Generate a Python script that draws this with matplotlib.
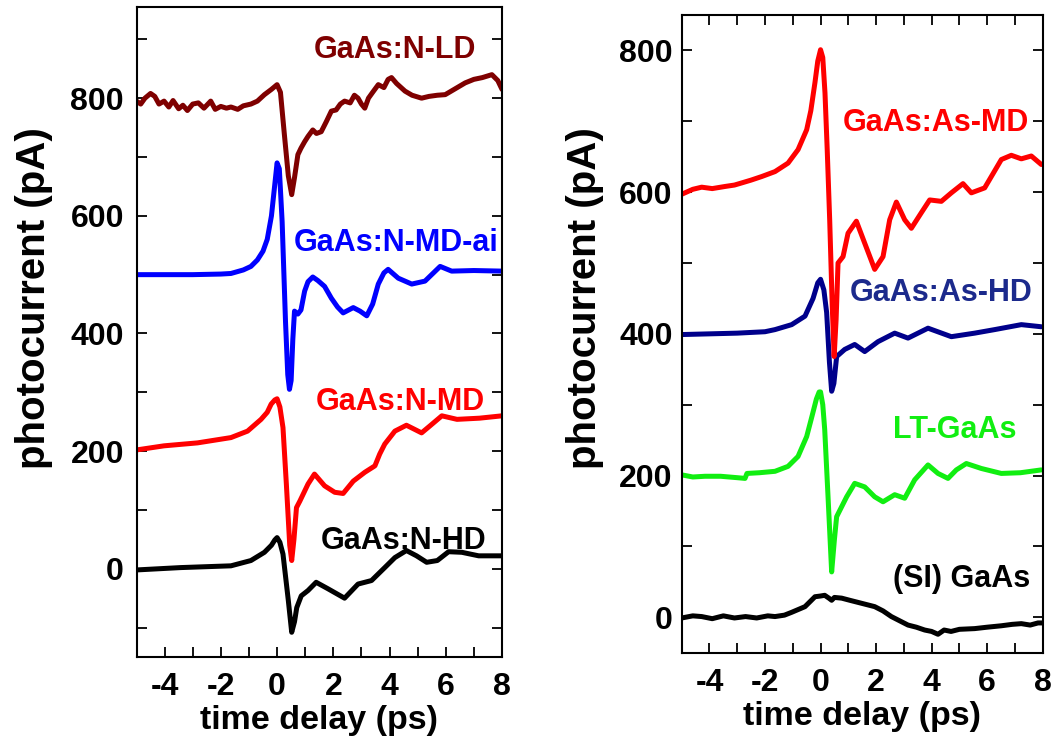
import matplotlib
matplotlib.use("Agg")
import matplotlib.pyplot as plt
from matplotlib.ticker import MultipleLocator

plt.rcParams['font.family'] = ['Liberation Sans', 'DejaVu Sans']
plt.rcParams['font.weight'] = 'bold'
plt.rcParams['axes.unicode_minus'] = False

# ---------------- Left panel data (GaAs:N samples) ----------------
ld_t = [-5.0, -4.85, -4.7, -4.5, -4.35, -4.2, -4.02, -3.85, -3.7, -3.5, -3.35, -3.19,
        -3.0, -2.8, -2.6, -2.36, -2.2, -2.0, -1.8, -1.64, -1.4, -1.2, -0.93, -0.7,
        -0.45, -0.2, 0.0, 0.12, 0.26, 0.4, 0.52, 0.62, 0.74, 0.85, 0.98, 1.1, 1.27,
        1.4, 1.57, 1.75, 1.93, 2.1, 2.25, 2.4, 2.6, 2.75, 2.88, 3.0, 3.12, 3.25, 3.4,
        3.6, 3.8, 3.95, 4.07, 4.25, 4.55, 4.8, 5.14, 5.4, 5.7, 5.98, 6.3, 6.69, 7.0,
        7.3, 7.64, 7.85, 8.0]
ld_y = [795, 790, 800, 808, 803, 790, 795, 785, 796, 782, 788, 779,
        790, 792, 783, 795, 781, 786, 783, 785, 781, 787, 790, 795,
        806, 815, 823, 810, 738, 668, 636, 665, 704, 715, 726, 735, 746,
        740, 743, 760, 778, 780, 790, 795, 792, 805, 800, 790, 783, 800, 810,
        823, 818, 832, 835, 825, 812, 805, 800, 803, 805, 806, 815, 826, 832,
        835, 840, 830, 815]

mdai_t = [-5.0, -4.0, -3.0, -2.0, -1.64, -1.2, -0.93, -0.7, -0.5, -0.35, -0.2, -0.1,
          0.0, 0.08, 0.18, 0.3, 0.38, 0.44, 0.5, 0.56, 0.62, 0.74, 0.85, 0.98, 1.1,
          1.27, 1.45, 1.69, 1.93, 2.15, 2.35, 2.71, 2.95, 3.19, 3.4, 3.6, 3.8, 3.95,
          4.31, 4.79, 5.26, 5.8, 6.21, 7.0, 8.0]
mdai_y = [500, 500, 500, 501, 502, 508, 514, 525, 540, 560, 600, 645,
          690, 680, 590, 420, 330, 305, 320, 390, 438, 433, 440, 472, 488,
          496, 490, 480, 460, 445, 435, 444, 438, 430, 450, 484, 503, 509,
          494, 484, 489, 514, 506, 507, 506]

md_t = [-5.0, -4.02, -2.83, -1.64, -1.05, -0.57, -0.35, -0.21, -0.08, 0.0, 0.1, 0.21,
        0.33, 0.45, 0.52, 0.6, 0.69, 0.81, 0.98, 1.1, 1.33, 1.69, 2.05, 2.35, 2.71,
        3.12, 3.48, 3.65, 3.83, 4.19, 4.6, 4.85, 5.14, 5.44, 5.86, 6.4, 7.2, 8.0]
md_y = [202, 209, 214, 223, 234, 254, 266, 280, 287, 289, 275, 240,
        144, 40, 14, 50, 104, 115, 132, 144, 161, 141, 130, 128, 149,
        164, 175, 195, 212, 234, 244, 238, 231, 243, 260, 254, 256, 260]

hd_t = [-5.0, -3.43, -1.64, -0.93, -0.45, -0.2, -0.08, 0.0, 0.1, 0.21, 0.4, 0.52, 0.62,
        0.7, 0.86, 1.1, 1.39, 1.81, 2.4, 2.88, 3.36, 3.83, 4.19, 4.6, 4.96, 5.32,
        5.7, 6.1, 6.57, 7.17, 8.0]
hd_y = [-2, 2, 5, 14, 28, 40, 49, 53, 45, 25, -54, -108, -90,
        -66, -46, -37, -23, -34, -50, -26, -20, 2, 19, 31, 22, 11,
        14, 29, 28, 22, 22]

# ---------------- Right panel data ----------------
asmd_t = [-5.0, -4.6, -4.28, -3.9, -3.44, -3.1, -2.84, -2.5, -2.12, -1.64, -1.17, -0.81,
          -0.5, -0.35, -0.2, -0.1, 0.0, 0.08, 0.16, 0.24, 0.33, 0.42, 0.49, 0.56,
          0.63, 0.81, 0.99, 1.29, 1.59, 1.95, 2.25, 2.49, 2.73, 3.03, 3.27, 3.63,
          3.93, 4.35, 4.71, 5.13, 5.43, 5.91, 6.15, 6.51, 6.87, 7.23, 7.59, 7.95]
asmd_y = [597, 604, 607, 605, 608, 610, 613, 617, 622, 629, 641, 660,
          688, 715, 755, 785, 801, 790, 740, 660, 560, 440, 368, 420,
          500, 509, 542, 559, 528, 491, 509, 561, 586, 561, 549, 571,
          589, 587, 599, 612, 599, 606, 622, 646, 652, 647, 651, 639]

ashd_t = [-5.0, -4.0, -3.0, -2.0, -1.64, -1.04, -0.56, -0.27, -0.1, 0.0, 0.12, 0.22,
          0.32, 0.4, 0.48, 0.58, 0.87, 1.23, 1.59, 2.07, 2.67, 3.15, 3.87, 4.71,
          5.55, 6.27, 7.23, 7.95]
ashd_y = [399, 400, 401, 403, 406, 413, 425, 450, 472, 477, 462, 430,
          360, 319, 330, 368, 378, 385, 375, 389, 401, 394, 408, 396,
          401, 406, 413, 410]

lt_t = [-5.0, -4.6, -4.16, -3.6, -3.0, -2.72, -2.65, -2.2, -1.64, -1.17, -0.81, -0.5,
        -0.3, -0.15, -0.05, 0.0, 0.08, 0.15, 0.27, 0.4, 0.5, 0.58, 0.76, 0.94, 1.23,
        1.59, 1.95, 2.25, 2.67, 3.03, 3.39, 3.87, 4.23, 4.59, 4.89, 5.25, 5.79,
        6.51, 7.2, 7.95]
lt_y = [201, 198, 199, 199, 197, 196, 203, 204, 206, 213, 227, 255,
        285, 308, 318, 318, 300, 265, 170, 64, 110, 142, 156, 170, 189,
        184, 170, 163, 173, 168, 194, 215, 203, 196, 208, 217, 210,
        203, 204, 208]

si_t = [-5.0, -4.6, -4.28, -3.9, -3.5, -3.1, -2.7, -2.3, -1.9, -1.64, -1.3, -1.04,
        -0.56, -0.2, 0.0, 0.15, 0.3, 0.4, 0.5, 0.76, 1.05, 1.35, 1.65, 1.95, 2.25,
        2.55, 2.85, 3.15, 3.45, 3.75, 4.0, 4.23, 4.45, 4.7, 5.0, 5.55, 6.0, 6.51,
        6.9, 7.23, 7.55, 7.83, 8.0]
si_y = [-1, 2, 1, -2, 2, -1, 1, -1, 2, 1, 3, 7,
        15, 29, 30, 31, 27, 24, 28, 27, 24, 21, 18, 15, 9,
        1, -5, -11, -14, -18, -20, -24, -18, -20, -17, -16, -14, -12,
        -10, -9, -11, -8, -8]

left_series = [
    (ld_t, ld_y, '#7f0000', 'GaAs:N-LD', 1.32, 869),
    (mdai_t, mdai_y, '#0000ff', 'GaAs:N-MD-ai', 0.61, 540),
    (md_t, md_y, '#ff0000', 'GaAs:N-MD', 1.39, 270),
    (hd_t, hd_y, '#000000', 'GaAs:N-HD', 1.57, 34),
]
right_series = [
    (asmd_t, asmd_y, '#ff0000', '#ff0000', 'GaAs:As-MD', 0.80, 686),
    (ashd_t, ashd_y, '#00008b', '#1c2a8c', 'GaAs:As-HD', 1.05, 446),
    (lt_t, lt_y, '#11ee11', '#11ee11', 'LT-GaAs', 2.6, 253),
    (si_t, si_y, '#000000', '#000000', '(SI) GaAs', 2.6, 43),
]

W, H = 1060, 749
fig = plt.figure(figsize=(W / 100, H / 100), dpi=100)

axL = fig.add_axes([136.5 / W, 1 - 657 / H, (502 - 136.5) / W, (657 - 7) / H])
axR = fig.add_axes([681.7 / W, 1 - 652.7 / H, (1042.7 - 681.7) / W, (652.7 - 15) / H])

for t, y, c, lab, tx, ty in left_series:
    axL.plot(t, y, color=c, lw=3.6, solid_joinstyle='round', solid_capstyle='round')
    axL.text(tx, ty, lab, color=c, fontsize=22, fontweight='bold', ha='left', va='baseline')

order = [1, 0, 2, 3]
for i in order:
    t, y, c, tc, lab, tx, ty = right_series[i]
    axR.plot(t, y, color=c, lw=3.6, solid_joinstyle='round', solid_capstyle='round')
for t, y, c, tc, lab, tx, ty in right_series:
    axR.text(tx, ty, lab, color=tc, fontsize=22, fontweight='bold', ha='left', va='baseline')

axL.set_xlim(-5, 8)
axL.set_ylim(-150, 955)
axR.set_xlim(-5, 8)
axR.set_ylim(-50, 850)

for ax, ypad, top in ((axL, 9, False), (axR, 6.5, True)):
    ax.xaxis.set_major_locator(MultipleLocator(2))
    ax.xaxis.set_minor_locator(MultipleLocator(1))
    ax.yaxis.set_major_locator(MultipleLocator(200))
    ax.yaxis.set_minor_locator(MultipleLocator(100))
    ax.tick_params(axis='both', which='both', direction='in', width=1.3,
                   top=top, right=True, length=7.5)
    ax.tick_params(axis='x', which='major', labelsize=23, pad=11)
    ax.tick_params(axis='y', which='major', labelsize=23, pad=ypad)
    for lbl in ax.get_xticklabels() + ax.get_yticklabels():
        lbl.set_fontweight('bold')
    for s in ax.spines.values():
        s.set_linewidth(1.5)
    ax.set_xlabel('time delay (ps)', fontsize=24.5, fontweight='bold', labelpad=2)

fig.text(34 / W, 1 - 298 / H, 'photocurrent (pA)', rotation=90, fontsize=29,
         fontweight='bold', ha='center', va='center')
fig.text(585 / W, 1 - 298 / H, 'photocurrent (pA)', rotation=90, fontsize=29,
         fontweight='bold', ha='center', va='center')

fig.savefig('out.png', dpi=100)
